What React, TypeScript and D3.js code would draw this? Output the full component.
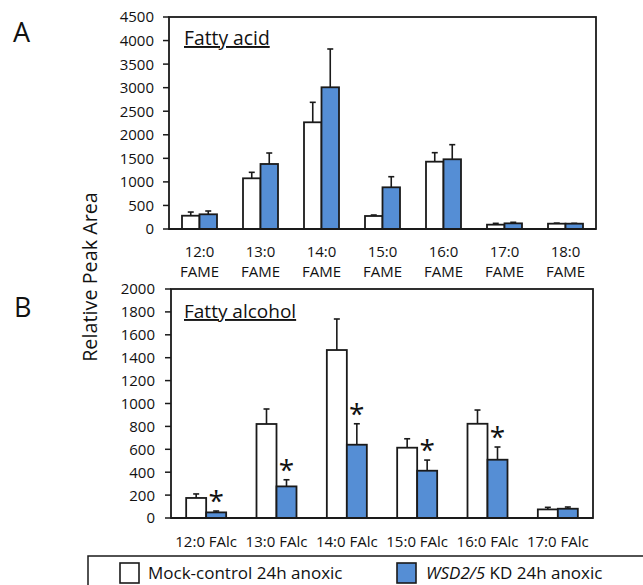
import React from "react";
import * as d3 from "d3";

// Panel A: fatty acids (FAME)
const faCategories = ["12:0", "13:0", "14:0", "15:0", "16:0", "17:0", "18:0"];
const faMock = [282, 1076, 2265, 276, 1429, 92, 113];
const faMockErr = [78, 127, 424, 21, 191, 28, 12];
const faKD = [312, 1380, 3008, 885, 1480, 120, 113];
const faKDErr = [70, 233, 813, 225, 310, 22, 7];
const faTicks = [0, 500, 1000, 1500, 2000, 2500, 3000, 3500, 4000, 4500];

// Panel B: fatty alcohols (FAlc)
const falcCategories = ["12:0 FAlc", "13:0 FAlc", "14:0 FAlc", "15:0 FAlc", "16:0 FAlc", "17:0 FAlc"];
const falcMock = [175, 821, 1467, 614, 823, 75];
const falcMockErr = [35, 131, 271, 78, 120, 18];
const falcKD = [49, 276, 640, 413, 509, 81];
const falcKDErr = [12, 58, 183, 93, 111, 15];
const falcSignificant = [true, true, true, true, true, false];
const falcTicks = [0, 200, 400, 600, 800, 1000, 1200, 1400, 1600, 1800, 2000];

const FONT = "'Open Sans', sans-serif";
const BLUE = "#558ED5";
const STROKE = "#1a1a1a";
const LABEL_SIZE = 15;

type PanelProps = {
  cats: string[];
  mock: number[];
  mockErr: number[];
  kd: number[];
  kdErr: number[];
  ticks: number[];
  sig?: boolean[];
  x0: number;
  x1: number;
  yTop: number;
  yBot: number;
  barW: number;
  title: string;
  titleSize: number;
  titleX: number;
  titleY: number;
  labelRight: number;
  twoLine: boolean;
  labelY: number;
};

function Panel(p: PanelProps) {
  const max = p.ticks[p.ticks.length - 1];
  const y = d3.scaleLinear().domain([0, max]).range([p.yBot, p.yTop]);
  const x = d3.scaleBand<string>().domain(p.cats).range([p.x0, p.x1]).padding(0);
  const cap = 3;
  return (
    <g>
      <rect x={p.x0} y={p.yTop} width={p.x1 - p.x0} height={p.yBot - p.yTop} fill="none" stroke={STROKE} strokeWidth={1.8} />
      {p.ticks.map((t) => (
        <g key={t}>
          <line x1={p.x0 - 6} x2={p.x0} y1={y(t)} y2={y(t)} stroke={STROKE} strokeWidth={1.5} />
          <text x={p.labelRight} y={y(t)} dy="0.36em" textAnchor="end" fontSize={LABEL_SIZE} fontFamily={FONT} fill="#111">
            {t}
          </text>
        </g>
      ))}
      {p.cats.map((c, i) => {
        const cx = (x(c) as number) + x.bandwidth() / 2;
        const mTop = y(p.mock[i]);
        const kTop = y(p.kd[i]);
        const mE = y(p.mock[i] + p.mockErr[i]);
        const kE = y(p.kd[i] + p.kdErr[i]);
        const mx = cx - p.barW / 2;
        const kx = cx + p.barW / 2;
        return (
          <g key={c}>
            <line x1={mx} x2={mx} y1={mTop} y2={mE} stroke={STROKE} strokeWidth={1.6} />
            <line x1={mx - cap} x2={mx + cap} y1={mE} y2={mE} stroke={STROKE} strokeWidth={1.6} />
            <line x1={kx} x2={kx} y1={kTop} y2={kE} stroke={STROKE} strokeWidth={1.6} />
            <line x1={kx - cap} x2={kx + cap} y1={kE} y2={kE} stroke={STROKE} strokeWidth={1.6} />
            <rect x={cx - p.barW} y={mTop} width={p.barW} height={p.yBot - mTop} fill="#fff" stroke={STROKE} strokeWidth={1.8} />
            <rect x={cx} y={kTop} width={p.barW} height={p.yBot - kTop} fill={BLUE} stroke={STROKE} strokeWidth={1.8} />
            {p.sig && p.sig[i] ? (
              <text x={kx} y={kE} textAnchor="middle" fontSize={28} fontFamily={FONT} fill="#111">
                *
              </text>
            ) : null}
            {p.twoLine ? (
              <text textAnchor="middle" fontSize={LABEL_SIZE} fontFamily={FONT} fill="#111">
                <tspan x={cx} y={p.labelY}>{c}</tspan>
                <tspan x={cx} y={p.labelY + 20}>FAME</tspan>
              </text>
            ) : (
              <text x={cx} y={p.labelY} textAnchor="middle" fontSize={LABEL_SIZE} fontFamily={FONT} fill="#111">
                {c}
              </text>
            )}
          </g>
        );
      })}
      <line x1={p.x0} x2={p.x1} y1={p.yBot} y2={p.yBot} stroke={STROKE} strokeWidth={1.8} />
      <text x={p.titleX} y={p.titleY} fontSize={p.titleSize} fontFamily={FONT} fill="#111" textDecoration="underline">
        {p.title}
      </text>
    </g>
  );
}

export default function App() {
  return (
    <svg width={643} height={585} style={{ position: "absolute", left: 0, top: 0, background: "#fff" }}>
      <rect x={0} y={0} width={643} height={585} fill="#fff" />
      <text x={13} y={42} fontSize={27} fontFamily={FONT} fill="#111">A</text>
      <text x={14} y={317} fontSize={27} fontFamily={FONT} fill="#111">B</text>
      <text
        transform="translate(97,277) rotate(-90)"
        textAnchor="middle"
        fontSize={19.8}
        fontFamily={FONT}
        fill="#111"
      >
        Relative Peak Area
      </text>
      <Panel
        cats={faCategories}
        mock={faMock}
        mockErr={faMockErr}
        kd={faKD}
        kdErr={faKDErr}
        ticks={faTicks}
        x0={169}
        x1={596}
        yTop={17}
        yBot={229}
        barW={17.5}
        title="Fatty acid"
        titleSize={19.3}
        titleX={184}
        titleY={45}
        labelRight={154}
        twoLine={true}
        labelY={257}
      />
      <Panel
        cats={falcCategories}
        mock={falcMock}
        mockErr={falcMockErr}
        kd={falcKD}
        kdErr={falcKDErr}
        ticks={falcTicks}
        sig={falcSignificant}
        x0={171}
        x1={593}
        yTop={289}
        yBot={518}
        barW={20}
        title="Fatty alcohol"
        titleSize={19}
        titleX={184}
        titleY={318}
        labelRight={155}
        twoLine={false}
        labelY={547}
      />
      <rect x={88} y={556} width={600} height={60} fill="none" stroke={STROKE} strokeWidth={1.5} />
      <rect x={120} y={563} width={19} height={20} fill="#fff" stroke={STROKE} strokeWidth={1.6} />
      <text x={148} y={579} fontSize={17} fontFamily={FONT} fill="#111">
        Mock-control 24h anoxic
      </text>
      <rect x={397} y={563} width={19} height={20} fill={BLUE} stroke={STROKE} strokeWidth={1.6} />
      <text x={426} y={579} fontSize={17} fontFamily={FONT} fill="#111">
        <tspan fontStyle="italic">WSD2/5</tspan> KD 24h anoxic
      </text>
    </svg>
  );
}
